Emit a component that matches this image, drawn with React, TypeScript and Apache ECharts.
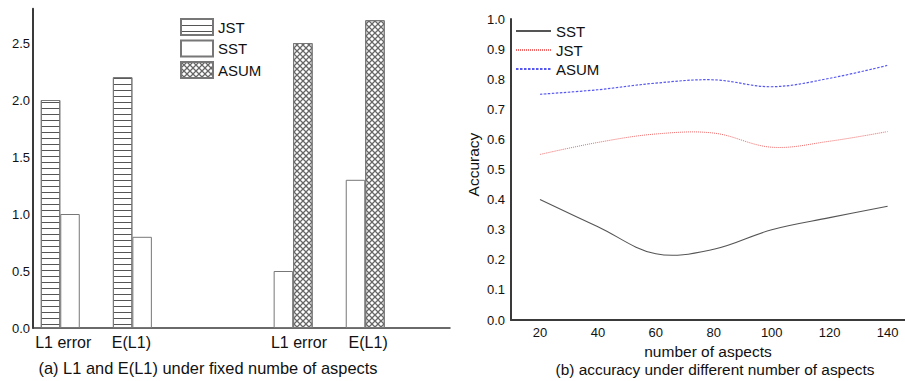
import React, { useEffect, useRef } from "react";
import * as echarts from "echarts";

// ---- Chart (a): bars ----
const barCategories = ["L1 error", "E(L1)", "L1 error", "E(L1)"];
const groupPositions = [1.4, 5.1, 13.35, 17.05];
const labelPositions = [1.55, 5.05, 13.65, 17.2];
const jstBars: (number | null)[] = [2.0, 2.2, null, null];
const sstBars: (number | null)[] = [1.0, 0.8, 0.5, 1.3];
const asumBars: (number | null)[] = [null, null, 2.5, 2.7];
const barYTicks = [0, 0.5, 1.0, 1.5, 2.0, 2.5];

// ---- Chart (b): lines ----
const aspects = [20, 40, 60, 80, 100, 120, 140];
const sstAcc = [0.4, 0.31, 0.22, 0.235, 0.3, 0.34, 0.378];
const jstAcc = [0.55, 0.59, 0.618, 0.621, 0.574, 0.594, 0.626];
const asumAcc = [0.75, 0.765, 0.787, 0.798, 0.775, 0.803, 0.846];

const FONT = "'Liberation Sans', Arial, sans-serif";

function buildBarData() {
  const all = [jstBars, sstBars, asumBars];
  const out: [number, number][][] = [[], [], []];
  groupPositions.forEach((g, gi) => {
    const present = all.map((s, si) => (s[gi] != null ? si : -1)).filter((i) => i >= 0);
    present.forEach((si, k) => {
      const off = k - (present.length - 1) / 2;
      out[si].push([g + off, all[si][gi] as number]);
    });
  });
  return out;
}

export default function App() {
  const ref = useRef<HTMLDivElement>(null);
  useEffect(() => {
    if (!ref.current) return;
    const chart = echarts.init(ref.current, undefined, { renderer: "svg" });
    const [jstData, sstData, asumData] = buildBarData();
    const axisLineStyle = { color: "#3a3a3a", width: 2 };
    const hLines = {
      symbol: "rect",
      symbolSize: 1,
      dashArrayX: [1, 0],
      dashArrayY: [1, 5],
      color: "#555",
      backgroundColor: "#fff",
      rotation: 0,
    };
    const cross = {
      symbol:
        "path://M0,0L1.5,0L10,8.5L10,10L8.5,10L0,1.5ZM8.5,0L10,0L10,1.5L1.5,10L0,10L0,8.5Z",
      symbolSize: 1,
      dashArrayX: [6, 0],
      dashArrayY: [6, 0],
      color: "#666",
      backgroundColor: "#fff",
      rotation: 0,
    };
    const barItem = (decal: any) => ({
      color: "#fff",
      borderColor: "#777",
      borderWidth: 1,
      decal,
    });
    const lineName = (n: string) => n.split("|")[0];

    const lineDefs = [
      { name: "SST|b", values: sstAcc, color: "#555", width: 1.1, dash: null as number[] | null },
      { name: "JST|b", values: jstAcc, color: "#f06a6a", width: 1, dash: [1, 1] },
      { name: "ASUM|b", values: asumAcc, color: "#5656f0", width: 1.2, dash: [2.5, 1.5] },
    ];

    const legendSeries = lineDefs.map((d) => ({
      name: d.name,
      type: "line",
      xAxisIndex: 1,
      yAxisIndex: 1,
      symbol: "none",
      data: [],
      lineStyle: { color: d.color, width: d.width, type: d.dash ? d.dash : "solid" },
      itemStyle: { color: d.color },
    }));

    const curveSeries = lineDefs.map((d) => {
      const pts = aspects.map((a, i) => [a, d.values[i]]);
      return {
        name: d.name.replace("|b", "|curve"),
        type: "custom",
        coordinateSystem: "cartesian2d",
        xAxisIndex: 1,
        yAxisIndex: 1,
        data: pts,
        silent: true,
        renderItem: (params: any, api: any) => {
          if (params.dataIndex !== 0) return null;
          const points = pts.map((p) => api.coord(p));
          return {
            type: "polyline",
            shape: { points, smooth: 0.36 },
            style: {
              stroke: d.color,
              lineWidth: d.width,
              lineDash: d.dash || undefined,
              fill: "none",
            },
          };
        },
      };
    });

    chart.setOption({
      animation: false,
      backgroundColor: "#fff",
      textStyle: { fontFamily: FONT },
      grid: [
        { left: 33, top: 8.8, width: 417, height: 319.2 },
        { left: 511, top: 19, right: 0, height: 301 },
      ],
      legend: [
        {
          data: ["JST", "SST", "ASUM"],
          orient: "vertical",
          left: 180,
          top: 18,
          padding: 0,
          itemWidth: 32,
          itemHeight: 16,
          itemGap: 3.5,
          icon: "rect",
          selectedMode: false,
          textStyle: { fontSize: 15, lineHeight: 16, color: "#111", fontFamily: FONT },
        },
        {
          data: ["SST|b", "JST|b", "ASUM|b"],
          orient: "vertical",
          left: 515,
          top: 23,
          padding: 0,
          itemWidth: 35,
          itemHeight: 16,
          itemGap: 3,
          selectedMode: false,
          formatter: lineName,
          itemStyle: { opacity: 0 },
          textStyle: { fontSize: 15, lineHeight: 16, color: "#111", fontFamily: FONT },
        },
      ],
      xAxis: [
        {
          gridIndex: 0,
          type: "value",
          min: 0,
          max: 21.4,
          axisLine: { show: true, onZero: false, lineStyle: { color: "#3a3a3a", width: 1.5 } },
          axisTick: { show: false },
          splitLine: { show: false },
          axisLabel: {
            customValues: labelPositions,
            margin: 6,
            fontSize: 16,
            color: "#111",
            fontFamily: FONT,
            formatter: (v: number) => {
              const i = labelPositions.findIndex((p) => Math.abs(p - v) < 1e-6);
              return i >= 0 ? barCategories[i] : "";
            },
          },
        },
        {
          gridIndex: 1,
          type: "value",
          min: 10,
          max: 146,
          name: "number of aspects",
          nameLocation: "middle",
          nameGap: 20,
          nameTextStyle: { fontSize: 15.5, color: "#111", fontFamily: FONT },
          axisLine: { show: true, onZero: false, lineStyle: axisLineStyle },
          axisTick: { show: false },
          splitLine: { show: false },
          axisLabel: {
            customValues: aspects,
            margin: 6,
            fontSize: 13,
            color: "#111",
            fontFamily: FONT,
          },
        },
      ],
      yAxis: [
        {
          gridIndex: 0,
          type: "value",
          min: 0,
          max: 2.8,
          axisLine: { show: true, lineStyle: axisLineStyle },
          axisTick: { show: false },
          splitLine: { show: false },
          axisLabel: {
            customValues: barYTicks,
            margin: 3,
            fontSize: 13,
            color: "#111",
            fontFamily: FONT,
            formatter: (v: number) => v.toFixed(1),
          },
        },
        {
          gridIndex: 1,
          type: "value",
          min: 0,
          max: 1,
          interval: 0.1,
          name: "Accuracy",
          nameLocation: "middle",
          nameGap: 30,
          nameRotate: 90,
          nameTextStyle: { fontSize: 15.5, color: "#111", fontFamily: FONT, padding: [0, 0, 0, 10] },
          axisLine: { show: true, lineStyle: axisLineStyle },
          axisTick: { show: false },
          splitLine: { show: false },
          axisLabel: {
            margin: 6,
            fontSize: 13,
            color: "#111",
            fontFamily: FONT,
            formatter: (v: number) => v.toFixed(1),
          },
        },
      ],
      series: [
        {
          name: "JST",
          type: "bar",
          xAxisIndex: 0,
          yAxisIndex: 0,
          barWidth: 19.5,
          barGap: "-100%",
          data: jstData,
          itemStyle: barItem(hLines),
        },
        {
          name: "SST",
          type: "bar",
          xAxisIndex: 0,
          yAxisIndex: 0,
          barWidth: 19.5,
          barGap: "-100%",
          data: sstData,
          itemStyle: barItem(null),
        },
        {
          name: "ASUM",
          type: "bar",
          xAxisIndex: 0,
          yAxisIndex: 0,
          barWidth: 19.5,
          barGap: "-100%",
          data: asumData,
          itemStyle: barItem(cross),
        },
        ...legendSeries,
        ...curveSeries,
      ],
      graphic: [
        {
          type: "text",
          x: 208,
          y: 368,
          style: {
            text: "(a) L1 and E(L1) under fixed numbe of aspects",
            align: "center",
            verticalAlign: "middle",
            fontSize: 16.4,
            fontFamily: FONT,
            fill: "#111",
          },
        },
        {
          type: "text",
          x: 715,
          y: 369,
          style: {
            text: "(b) accuracy under different number of aspects",
            align: "center",
            verticalAlign: "middle",
            fontSize: 15.4,
            fontFamily: FONT,
            fill: "#111",
          },
        },
      ],
    });
    return () => chart.dispose();
  }, []);
  return (
    <div
      ref={ref}
      style={{ position: "absolute", left: 0, top: 0, width: 905, height: 381 }}
    />
  );
}
